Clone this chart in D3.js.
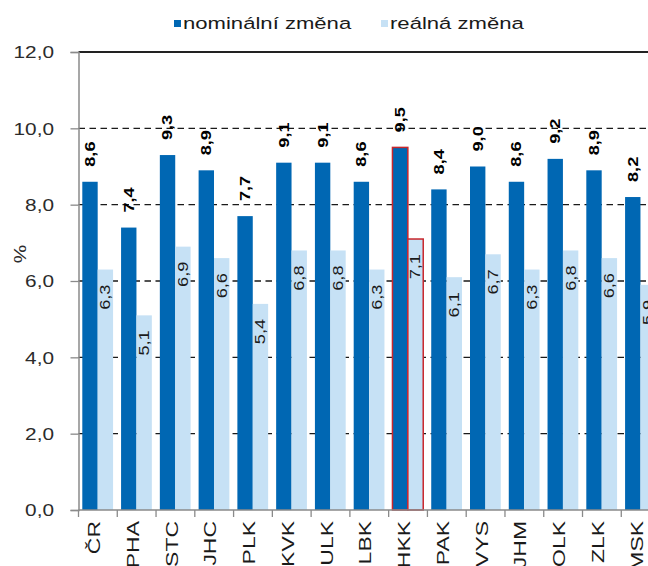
<!DOCTYPE html>
<html>
<head>
<meta charset="utf-8">
<script src="https://cdn.jsdelivr.net/npm/d3@7/dist/d3.min.js"></script>
<style>
  body { margin: 0; background: #fff; }
  svg { display: block; font-family: "Liberation Sans", Arial, sans-serif; }
</style>
</head>
<body>
<svg id="chart" width="648" height="566"></svg>
<script>
// data
const regions = ["ČR", "PHA", "STC", "JHC", "PLK", "KVK", "ULK", "LBK", "HKK", "PAK", "VYS", "JHM", "OLK", "ZLK", "MSK"]
const nominal = [8.6, 7.4, 9.3, 8.9, 7.7, 9.1, 9.1, 8.6, 9.5, 8.4, 9.0, 8.6, 9.2, 8.9, 8.2]
const real = [6.3, 5.1, 6.9, 6.6, 5.4, 6.8, 6.8, 6.3, 7.1, 6.1, 6.7, 6.3, 6.8, 6.6, 5.9]
const series = ["nominální změna", "reálná změna"]
const highlight = "HKK"
const y_ticks = [0, 2, 4, 6, 8, 10, 12]

const dark = "#0067b3"
const light = "#c6e1f5"
const stretch = 1.3   // text in the reference is wide along its writing direction

const svg = d3.select("#chart")
const plot_left = 78.5, plot_bottom = 510, plot_top = 52, pitch = 38.77

const x0 = d3.scaleBand().domain(regions).range([plot_left, plot_left + regions.length * pitch]).padding(0)
const x1 = d3.scaleBand().domain(series).range([3.8, pitch - 4.2]).padding(0)
const y = d3.scaleLinear().domain([0, 12]).range([plot_bottom, plot_top])

const fmt = (v) => d3.format(".1f")(v).replace(".", ",")

// gridlines (dashed), top one solid
svg.append("g").selectAll("line.grid")
	.data(y_ticks.filter((d) => d > 0 && d < 12)).enter().append("line")
	.classed("grid", true)
	.attr("x1", plot_left).attr("x2", 648)
	.attr("y1", (d) => y(d)).attr("y2", (d) => y(d))
	.attr("stroke", "#1a1a1a").attr("stroke-width", 1.3)
	.attr("stroke-dasharray", "6.5,4.5")

svg.append("line")
	.attr("x1", plot_left).attr("x2", 648)
	.attr("y1", y(12)).attr("y2", y(12))
	.attr("stroke", "#222").attr("stroke-width", 1.8)

// bars
const rows = regions.map((r, i) => ({region: r, values: [nominal[i], real[i]]}))

const groups = svg.append("g").selectAll("g.region")
	.data(rows).enter().append("g")
	.classed("region", true)
	.attr("transform", (d) => `translate(${x0(d.region)},0)`)

groups.selectAll("rect")
	.data((d) => d.values.map((v, j) => ({region: d.region, s: series[j], v: v})))
	.enter().append("rect")
	.attr("x", (d) => x1(d.s))
	.attr("width", x1.bandwidth())
	.attr("y", (d) => y(d.v))
	.attr("height", (d) => y(0) - y(d.v))
	.attr("fill", (d) => d.s == series[0] ? dark : light)
	.attr("stroke", (d) => d.region == highlight ? "#c8262c" : "none")
	.attr("stroke-width", 1.5)

// value labels
groups.selectAll("text.nom")
	.data((d) => [d.values[0]]).enter().append("text")
	.classed("nom", true)
	.text((d) => fmt(d))
	.attr("transform", (d) => `translate(${x1(series[0]) + x1.bandwidth() / 2},${y(d) - 15}) rotate(-90) scale(${stretch},1)`)
	.attr("dy", "0.35em")
	.attr("text-anchor", "start")
	.attr("font-size", 14)
	.attr("font-weight", "bold")
	.attr("fill", "#000")

groups.selectAll("text.real")
	.data((d) => [d.values[1]]).enter().append("text")
	.classed("real", true)
	.text((d) => fmt(d))
	.attr("transform", (d) => `translate(${x1(series[1]) + x1.bandwidth() / 2},${y(d) + 15}) rotate(-90) scale(${stretch},1)`)
	.attr("dy", "0.35em")
	.attr("text-anchor", "end")
	.attr("font-size", 14)
	.attr("fill", "#1a1a1a")

// y axis
const yAxis = svg.append("g")
	.attr("transform", `translate(${plot_left},0)`)
	.call(d3.axisLeft(y).tickValues(y_ticks).tickSize(8).tickFormat(fmt))
yAxis.select(".domain").attr("stroke", "#8a8a8a").attr("stroke-width", 1.5)
yAxis.selectAll(".tick line").attr("stroke", "#8a8a8a").attr("stroke-width", 1.3)
yAxis.selectAll(".tick text")
	.attr("x", 0).attr("dy", "0.36em")
	.attr("transform", `translate(-24.5,0) scale(${stretch},1)`)
	.attr("font-size", 16)
	.attr("font-family", "Liberation Sans, Arial, sans-serif")
	.attr("fill", "#2b2b2b")

// x axis
svg.append("line")
	.attr("x1", plot_left).attr("x2", 648)
	.attr("y1", plot_bottom).attr("y2", plot_bottom)
	.attr("stroke", "#8a8a8a").attr("stroke-width", 1.5)

svg.append("g").selectAll("line.xtick")
	.data(regions.concat(["end"])).enter().append("line")
	.classed("xtick", true)
	.attr("x1", (d, i) => plot_left + i * x0.step())
	.attr("x2", (d, i) => plot_left + i * x0.step())
	.attr("y1", plot_bottom).attr("y2", plot_bottom + 7)
	.attr("stroke", "#8a8a8a").attr("stroke-width", 1.3)

svg.append("g").selectAll("text.cat")
	.data(regions).enter().append("text")
	.classed("cat", true)
	.text((d) => d)
	.attr("transform", (d) => `translate(${x0(d) + x0.bandwidth() / 2 - 4},${plot_bottom + 11}) rotate(-90) scale(1.35,1)`)
	.attr("dy", "0.36em")
	.attr("text-anchor", "end")
	.attr("font-size", 17)
	.attr("fill", "#1a1a1a")

// y title
svg.append("text")
	.text("%")
	.attr("transform", `translate(20,254) rotate(-90) scale(${stretch},1)`)
	.attr("dy", "0.36em")
	.attr("text-anchor", "middle")
	.attr("font-size", 16)
	.attr("fill", "#2b2b2b")

// legend
const legend_x = [174, 381]
const legend = svg.append("g").selectAll("g.legend")
	.data(series).enter().append("g")
	.classed("legend", true)
	.attr("transform", (d, i) => `translate(${legend_x[i]},0)`)

legend.append("rect")
	.attr("x", 0).attr("y", 20)
	.attr("width", 7).attr("height", 7)
	.attr("fill", (d, i) => i == 0 ? dark : light)

legend.append("text")
	.text((d) => d)
	.attr("transform", `translate(9,29) scale(${stretch},1)`)
	.attr("font-size", 17)
	.attr("fill", "#1a1a1a")
</script>
</body>
</html>
